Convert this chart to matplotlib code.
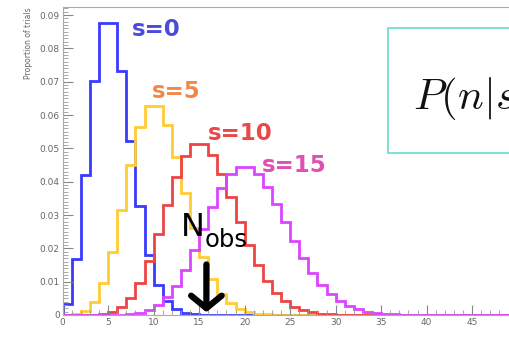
import numpy as np
import matplotlib
matplotlib.use("Agg")
import matplotlib.pyplot as plt
from matplotlib.patches import Rectangle

# proportion of trials per bin, n = 0..49
s0 = [0.0034, 0.0168, 0.0421, 0.0702, 0.0877, 0.0877, 0.0731, 0.0522, 0.0326, 0.0181,
      0.0091, 0.0041, 0.0017, 0.0007, 0.0002, 0.0001, 0, 0, 0, 0,
      0, 0, 0, 0, 0, 0, 0, 0, 0, 0,
      0, 0, 0, 0, 0, 0, 0, 0, 0, 0,
      0, 0, 0, 0, 0, 0, 0, 0, 0, 0]
s5 = [0.0000, 0.0002, 0.0011, 0.0038, 0.0095, 0.0189, 0.0315, 0.0450, 0.0563, 0.0626,
      0.0626, 0.0569, 0.0474, 0.0365, 0.0260, 0.0174, 0.0109, 0.0064, 0.0035, 0.0019,
      0.0009, 0.0004, 0.0002, 0.0001, 0, 0, 0, 0, 0, 0,
      0, 0, 0, 0, 0, 0, 0, 0, 0, 0,
      0, 0, 0, 0, 0, 0, 0, 0, 0, 0]
s10 = [0, 0, 0, 0.0001, 0.0003, 0.0010, 0.0024, 0.0052, 0.0097, 0.0162,
       0.0243, 0.0331, 0.0414, 0.0478, 0.0512, 0.0512, 0.0480, 0.0424, 0.0353, 0.0279,
       0.0209, 0.0149, 0.0102, 0.0066, 0.0042, 0.0025, 0.0014, 0.0008, 0.0004, 0.0002,
       0.0001, 0, 0, 0, 0, 0, 0, 0, 0, 0,
       0, 0, 0, 0, 0, 0, 0, 0, 0, 0]
s15 = [0, 0, 0, 0, 0, 0, 0.0001, 0.0003, 0.0007, 0.0015,
       0.0029, 0.0053, 0.0088, 0.0136, 0.0194, 0.0258, 0.0323, 0.0380, 0.0422, 0.0444,
       0.0444, 0.0423, 0.0385, 0.0334, 0.0279, 0.0223, 0.0171, 0.0127, 0.0091, 0.0063,
       0.0042, 0.0027, 0.0017, 0.0010, 0.0006, 0.0003, 0.0002, 0.0001, 0.0001, 0,
       0, 0, 0, 0, 0, 0, 0, 0, 0, 0]

labels = ["s=0", "s=5", "s=10", "s=15"]
line_colors = ["#3a3aff", "#ffcc33", "#ee4444", "#dd44ff"]
text_colors = ["#4b4bdd", "#f0884a", "#e84848", "#e050b0"]
label_pos = [(7.6, 0.0857), (9.8, 0.0672), (16.0, 0.0546), (21.9, 0.0450)]
n_obs = 15.8

edges = np.arange(0, 51)
plt.rcParams['mathtext.fontset'] = 'cm'

fig = plt.figure(figsize=(5.09, 3.46), dpi=100)
ax = fig.add_axes([0.123, 0.0896, 0.894, 0.890])

for vals, c in zip([s0, s5, s10, s15], line_colors):
    ax.stairs(vals, edges, color=c, lw=2.0)

for lab, (x, y), c in zip(labels, label_pos, text_colors):
    ax.text(x, y, lab, color=c, fontsize=16.5, fontweight='bold',
            ha='left', va='center')

# observed count
ax.text(13.0, 0.0262, "N", fontsize=23, color='black', ha='left', va='center')
ax.text(15.6, 0.0224, "obs", fontsize=17.5, color='black', ha='left', va='center')
ax.annotate("", xy=(n_obs, 0.0), xytext=(n_obs, 0.0160),
            arrowprops=dict(arrowstyle="->, head_length=0.45, head_width=0.55",
                            lw=4.5, color='black', mutation_scale=20))

ax.set_xlim(0, 50)
ax.set_ylim(0, 0.0924)
ax.set_xticks(np.arange(0, 50, 5))
ax.set_xticks(np.arange(0, 51, 1), minor=True)
ax.set_yticks(np.arange(0, 0.091, 0.01))
ax.set_yticks(np.arange(0, 0.0925, 0.001), minor=True)
ax.set_yticklabels(["0"] + ["%.2f" % v for v in np.arange(0.01, 0.091, 0.01)])
ax.tick_params(direction='in', which='major', length=7, width=0.8,
               colors='#888888', labelcolor='#666666', labelsize=6.5, pad=2)
ax.tick_params(direction='in', which='minor', length=3.5, width=0.6, colors='#999999')
for side in ['left', 'bottom', 'top']:
    ax.spines[side].set_color('#aaaaaa')
ax.spines['right'].set_visible(False)
ax.set_ylabel("Proportion of trials", fontsize=5.5, color='#666666', loc='top', labelpad=5)

# formula box, cut off by the right edge as in the source image
fig.patches.append(Rectangle((0.762, 0.558), 0.4, 0.361, transform=fig.transFigure,
                             facecolor='white', edgecolor='#80e2d2', lw=1.5))
fig.text(0.812, 0.715, r"$P(n|s+b)$", fontsize=31, color='#111111',
         ha='left', va='center')

fig.savefig("out.png", dpi=100)
